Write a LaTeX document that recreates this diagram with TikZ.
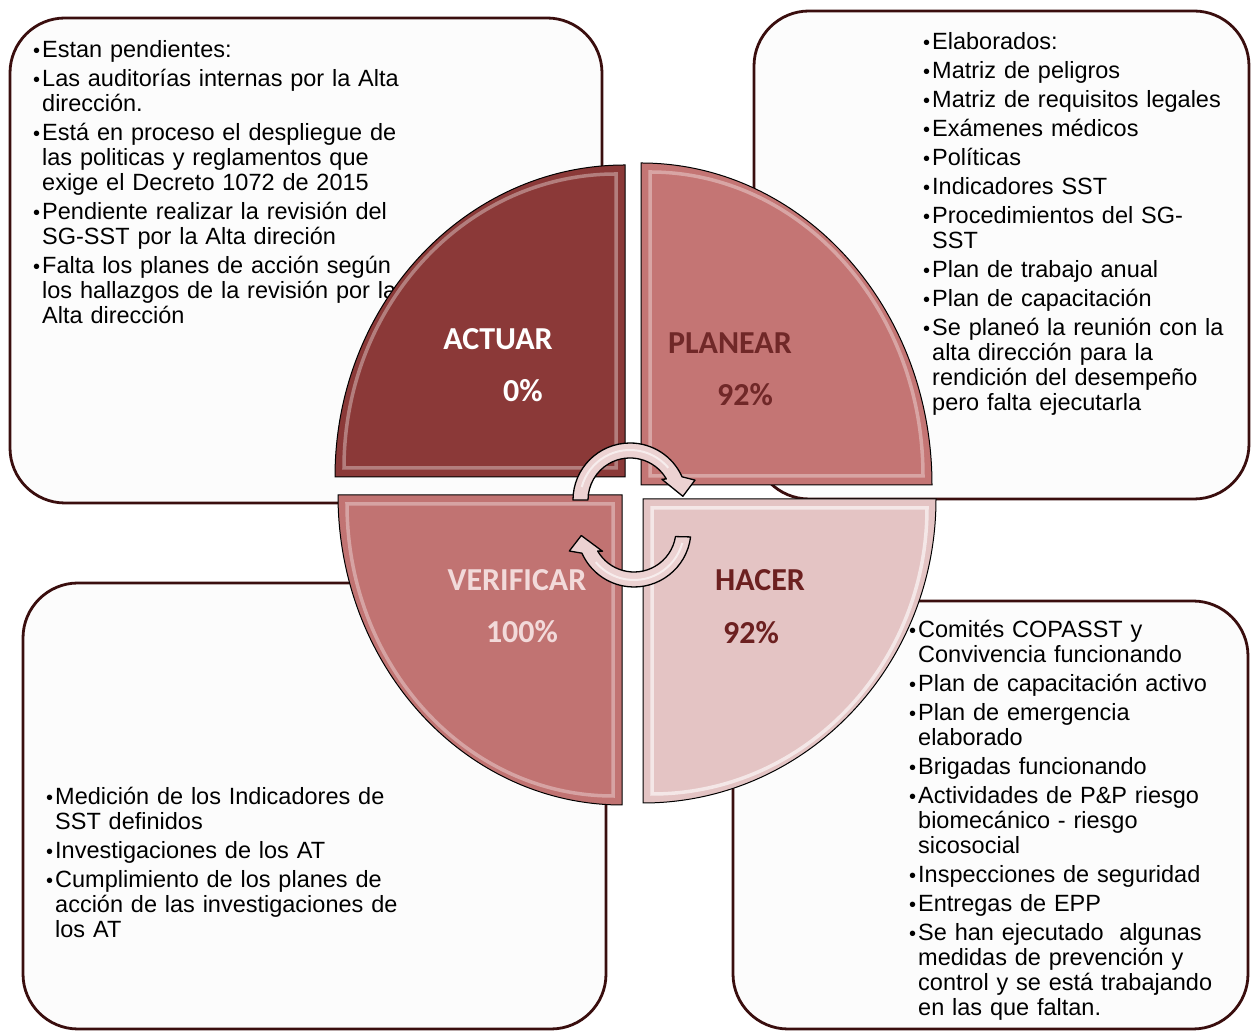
\documentclass[tikz,border=0pt]{standalone}
\usepackage{fontspec}
\setmainfont{Liberation Sans}
\newfontfamily\lblfont{Carlito}
\definecolor{boxedge}{RGB}{58,14,14}
\definecolor{boxfill}{RGB}{252,252,252}
\definecolor{actfill}{RGB}{139,57,56}
\definecolor{planfill}{RGB}{196,117,116}
\definecolor{verfill}{RGB}{193,115,114}
\definecolor{hacfill}{RGB}{228,196,196}
\definecolor{planlbl}{RGB}{112,40,40}
\definecolor{haclbl}{RGB}{108,32,32}
\definecolor{verlbl}{RGB}{242,218,218}
\definecolor{arrowfill}{RGB}{236,210,210}
\newcommand{\pbul}{\makebox[9pt][l]{\raisebox{0.5pt}{\fontsize{20}{20}\selectfont\textbullet}}}
\newcommand{\pind}{\hspace*{9pt}}

\begin{document}
\begin{tikzpicture}[x=1pt, y=1pt,
  infobox/.style={draw=boxedge, line width=2.8pt, fill=boxfill, rounded corners=55pt},
  infotext/.style={anchor=base west, inner sep=0pt, text width=430pt, align=left,
    font=\fontsize{23.5}{25}\selectfont},
  quad/.style={draw=black, line width=1pt},
  bevel/.style={draw=white, draw opacity=0.35, line width=3.5pt},
  phase/.style={anchor=base, inner sep=0pt, font=\lblfont\bfseries\fontsize{32}{34}\selectfont},
  cyclearrow/.style={fill=arrowfill, draw=black, line width=1.3pt, line join=round}]
  \useasboundingbox (0,0) rectangle (1254,1033);

  % boxes
  \draw[infobox] (10,530) rectangle (602,1015);
  \draw[infobox] (754,534) rectangle (1249,1022);
  \draw[infobox] (23,4) rectangle (606,450);
  \draw[infobox] (733,4) rectangle (1248,432);

  % ACTUAR list
  \node[infotext] (acttxt) at (33,975) {%
    \pbul Estan pendientes:\\[4pt]
    \pbul Las auditorías internas por la Alta\\
    \pind dirección.\\[4pt]
    \pbul Está en proceso el despliegue de\\
    \pind las politicas y reglamentos que\\
    \pind exige el Decreto 1072 de 2015\\[4pt]
    \pbul Pendiente realizar la revisión del\\
    \pind SG-SST por la Alta direción\\[4pt]
    \pbul Falta los planes de acción según\\
    \pind los hallazgos de la revisión por la\\
    \pind Alta dirección};
  % PLANEAR list
  \node[infotext] (plantxt) at (923,983) {%
    \pbul Elaborados:\\[4pt]
    \pbul Matriz de peligros\\[4pt]
    \pbul Matriz de requisitos legales\\[4pt]
    \pbul Exámenes médicos\\[4pt]
    \pbul Políticas\\[4pt]
    \pbul Indicadores SST\\[4pt]
    \pbul Procedimientos del SG-\\
    \pind SST\\[4pt]
    \pbul Plan de trabajo anual\\[4pt]
    \pbul Plan de capacitación\\[4pt]
    \pbul Se planeó la reunión con la\\
    \pind alta dirección para la\\
    \pind rendición del desempeño\\
    \pind pero falta ejecutarla};
  % HACER list
  \node[infotext] (hactxt) at (909,395) {%
    \pbul Comités COPASST y\\
    \pind Convivencia funcionando\\[4pt]
    \pbul Plan de capacitación activo\\[4pt]
    \pbul Plan de emergencia\\
    \pind elaborado\\[4pt]
    \pbul Brigadas funcionando\\[4pt]
    \pbul Actividades de P\&P riesgo\\
    \pind biomecánico - riesgo\\
    \pind sicosocial\\[4pt]
    \pbul Inspecciones de seguridad\\[4pt]
    \pbul Entregas de EPP\\[4pt]
    \pbul Se han ejecutado\ \ algunas\\
    \pind medidas de prevención y\\
    \pind control y se está trabajando\\
    \pind en las que faltan.};
  % VERIFICAR list
  \node[infotext] (vertxt) at (46,228) {%
    \pbul Medición de los Indicadores de\\
    \pind SST definidos\\[4pt]
    \pbul Investigaciones de los AT\\[4pt]
    \pbul Cumplimiento de los planes de\\
    \pind acción de las investigaciones de\\
    \pind los AT};

  % quadrants
  \filldraw[quad, fill=actfill] (625,556) -- (625,868) arc[start angle=90, end angle=180, x radius=290, y radius=312] -- cycle;
  \draw[bevel] (616,565) -- (616,859) arc[start angle=90, end angle=180, x radius=272, y radius=294] -- cycle;
  \filldraw[quad, fill=planfill] (641,548) -- (641,870) arc[start angle=90, end angle=0, x radius=291, y radius=322] -- cycle;
  \draw[bevel] (650,557) -- (650,861) arc[start angle=90, end angle=0, x radius=273, y radius=304] -- cycle;
  \filldraw[quad, fill=verfill] (622,538) -- (338,538) arc[start angle=180, end angle=270, x radius=284, y radius=310] -- cycle;
  \draw[bevel] (613,529) -- (347,529) arc[start angle=180, end angle=270, x radius=266, y radius=292] -- cycle;
  \filldraw[quad, fill=hacfill] (643,534) -- (936,534) arc[start angle=0, end angle=-90, x radius=293, y radius=304] -- cycle;
  \draw[bevel, draw opacity=0.6] (652,525) -- (927,525) arc[start angle=0, end angle=-90, x radius=275, y radius=286] -- cycle;

  % phase labels
  \node[phase, text=white] (actuar) at (498,683) {ACTUAR};
  \node[phase, text=white] (actpct) at (523,631) {0\%};
  \node[phase, text=planlbl] (planear) at (730,679) {PLANEAR};
  \node[phase, text=planlbl] (planpct) at (745,627) {92\%};
  \node[phase, text=verlbl] (verificar) at (517,442) {VERIFICAR};
  \node[phase, text=verlbl] (verpct) at (522,390) {100\%};
  \node[phase, text=haclbl] (hacer) at (760,442) {HACER};
  \node[phase, text=haclbl] (hacpct) at (751,389) {92\%};

  % cycle arrows
  \begin{scope}[shift={(630,533)}]
    \filldraw[cyclearrow] (180:57pt) arc[start angle=180, end angle=24, radius=57pt]
      -- (17:68pt) -- (4:53pt) -- (33:38pt) -- (30:42pt)
      arc[start angle=30, end angle=180, radius=42pt] -- cycle;
    \draw[white, opacity=0.6, line width=2pt] (165:50pt) arc[start angle=165, end angle=40, radius=50pt];
  \end{scope}
  \begin{scope}[shift={(634,503)}]
    \filldraw[cyclearrow] (-7:57pt) arc[start angle=-7, end angle=-156, radius=57pt]
      -- (-162:68pt) -- (-174:53pt) -- (-146:38pt) -- (-150:42pt)
      arc[start angle=-150, end angle=-9, radius=42pt] -- cycle;
    \draw[white, opacity=0.6, line width=2pt] (-15:50pt) arc[start angle=-15, end angle=-140, radius=50pt];
  \end{scope}
\end{tikzpicture}
\end{document}
